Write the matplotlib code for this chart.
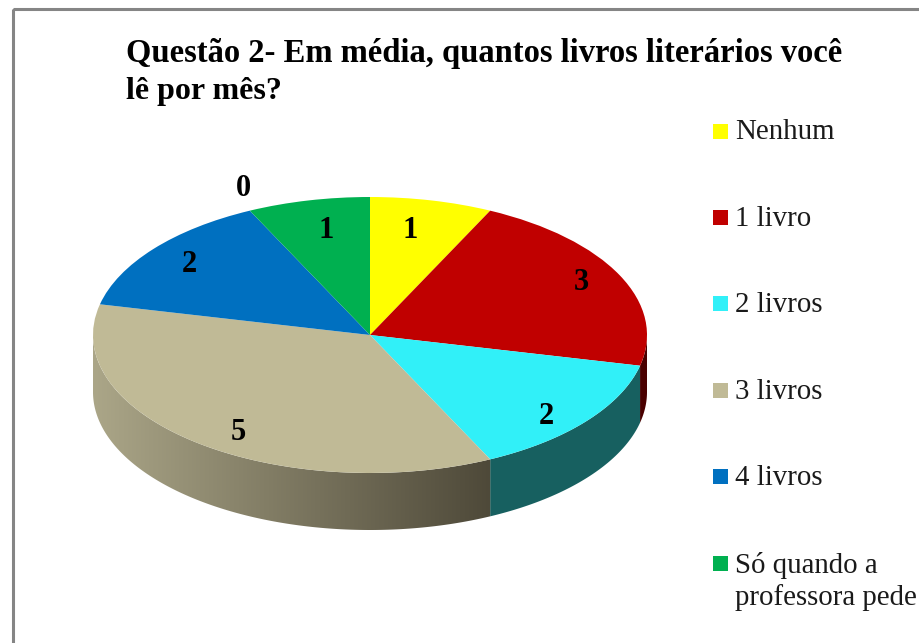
import numpy as np
import matplotlib.pyplot as plt
from matplotlib.patches import Rectangle, Polygon
from matplotlib.colors import LinearSegmentedColormap

plt.rcParams['font.family'] = ['Liberation Serif', 'DejaVu Serif']

# data
categories = ['Nenhum', '1 livro', '2 livros', '3 livros', '4 livros', 'Só quando a\nprofessora pede']
values = [1, 3, 2, 5, 2, 1]
slice_labels = ['1', '3', '2', '5', '2', '1']
extra_label = '0'
title_lines = ['Questão 2- Em média, quantos livros literários você', 'lê por mês?']
colors = ['#FFFF00', '#C00000', '#31F0F8', '#C0BA96', '#0070C0', '#00B050']
red_wall = '#4A0000'
cyan_wall = '#176060'
tan_wall = ['#ABA688', '#4E4939']

# geometry in pixels of the 920x643 picture
W, H = 920, 643
cx, cy, rx, ry, depth = 370, 335, 277, 138, 57
label_pos = [(410, 231), (581, 283), (546, 416), (238, 433), (189, 265), (326, 231)]
extra_pos = (243, 189)
legend_y = [131, 217, 303, 390, 476, 563]
legend_base = [139, 226, 312, 399, 485, 573]

fig = plt.figure(figsize=(W / 100, H / 100), dpi=100)

# pie axes: unit circle stretched into the ellipse
ax = fig.add_axes([0, 0, 1, 1])
ax.pie(values, colors=colors, startangle=90, counterclock=False, radius=1,
       wedgeprops={'linewidth': 0})
d = depth / ry


def wall_outline(a0, a1):
    # side of the disc between two clockwise angles from the top
    t = np.radians(np.linspace(a0, a1, 200))
    xs = np.concatenate([np.sin(t), np.sin(t[::-1])])
    ys = np.concatenate([np.cos(t), np.cos(t[::-1]) - d])
    return np.column_stack([xs, ys])


bounds = np.cumsum([0] + values) / sum(values) * 360
ax.add_patch(Polygon(wall_outline(90, bounds[2]), fc=red_wall, ec='none', zorder=0))
ax.add_patch(Polygon(wall_outline(bounds[2], bounds[3]), fc=cyan_wall, ec='none', zorder=0))

# shaded side of the big slice: light on the left, dark on the right
tan_poly = Polygon(wall_outline(bounds[3], 270), fc='none', ec='none', transform=ax.transData)
ax.add_patch(tan_poly)
right = np.sin(np.radians(bounds[3]))
cmap = LinearSegmentedColormap.from_list('tan_wall', tan_wall)
img = ax.imshow(np.linspace(0, 1, 256)[None, :], cmap=cmap, aspect='auto',
                extent=(-1, right, -1 - d, 0), zorder=0, interpolation='bilinear')
img.set_clip_path(tan_poly)

ax.set_aspect('auto')
ax.set_xlim(-cx / rx, (W - cx) / rx)
ax.set_ylim(-(H - cy) / ry, cy / ry)

# overlay in picture pixels for texts and frame
over = fig.add_axes([0, 0, 1, 1], facecolor='none')
over.set_xlim(0, W)
over.set_ylim(H, 0)
over.axis('off')

over.add_patch(Rectangle((13, 9), W + 20, H + 20, fill=False, ec='#858585', lw=2.2))

over.text(126, 62, title_lines[0], fontsize=23.5, fontweight='bold', va='baseline', ha='left', color='black')
over.text(126, 99, title_lines[1], fontsize=23, fontweight='bold', va='baseline', ha='left', color='black')

for (x, y), s in zip(label_pos, slice_labels):
    over.text(x, y, s, fontsize=22, fontweight='bold', ha='center', va='center', color='black')
over.text(extra_pos[0], extra_pos[1], extra_label, fontsize=22, fontweight='bold', ha='center', va='center')

for y, base, name, c in zip(legend_y, legend_base, categories, colors):
    over.add_patch(Rectangle((713, y - 7), 15, 14.5, fc=c, ec='none'))
    for i, line in enumerate(name.split('\n')):
        over.text(735, base + i * 32, line, fontsize=20.8, ha='left', va='baseline', color='#1a1a1a')

fig.savefig('out.png', dpi=100)
